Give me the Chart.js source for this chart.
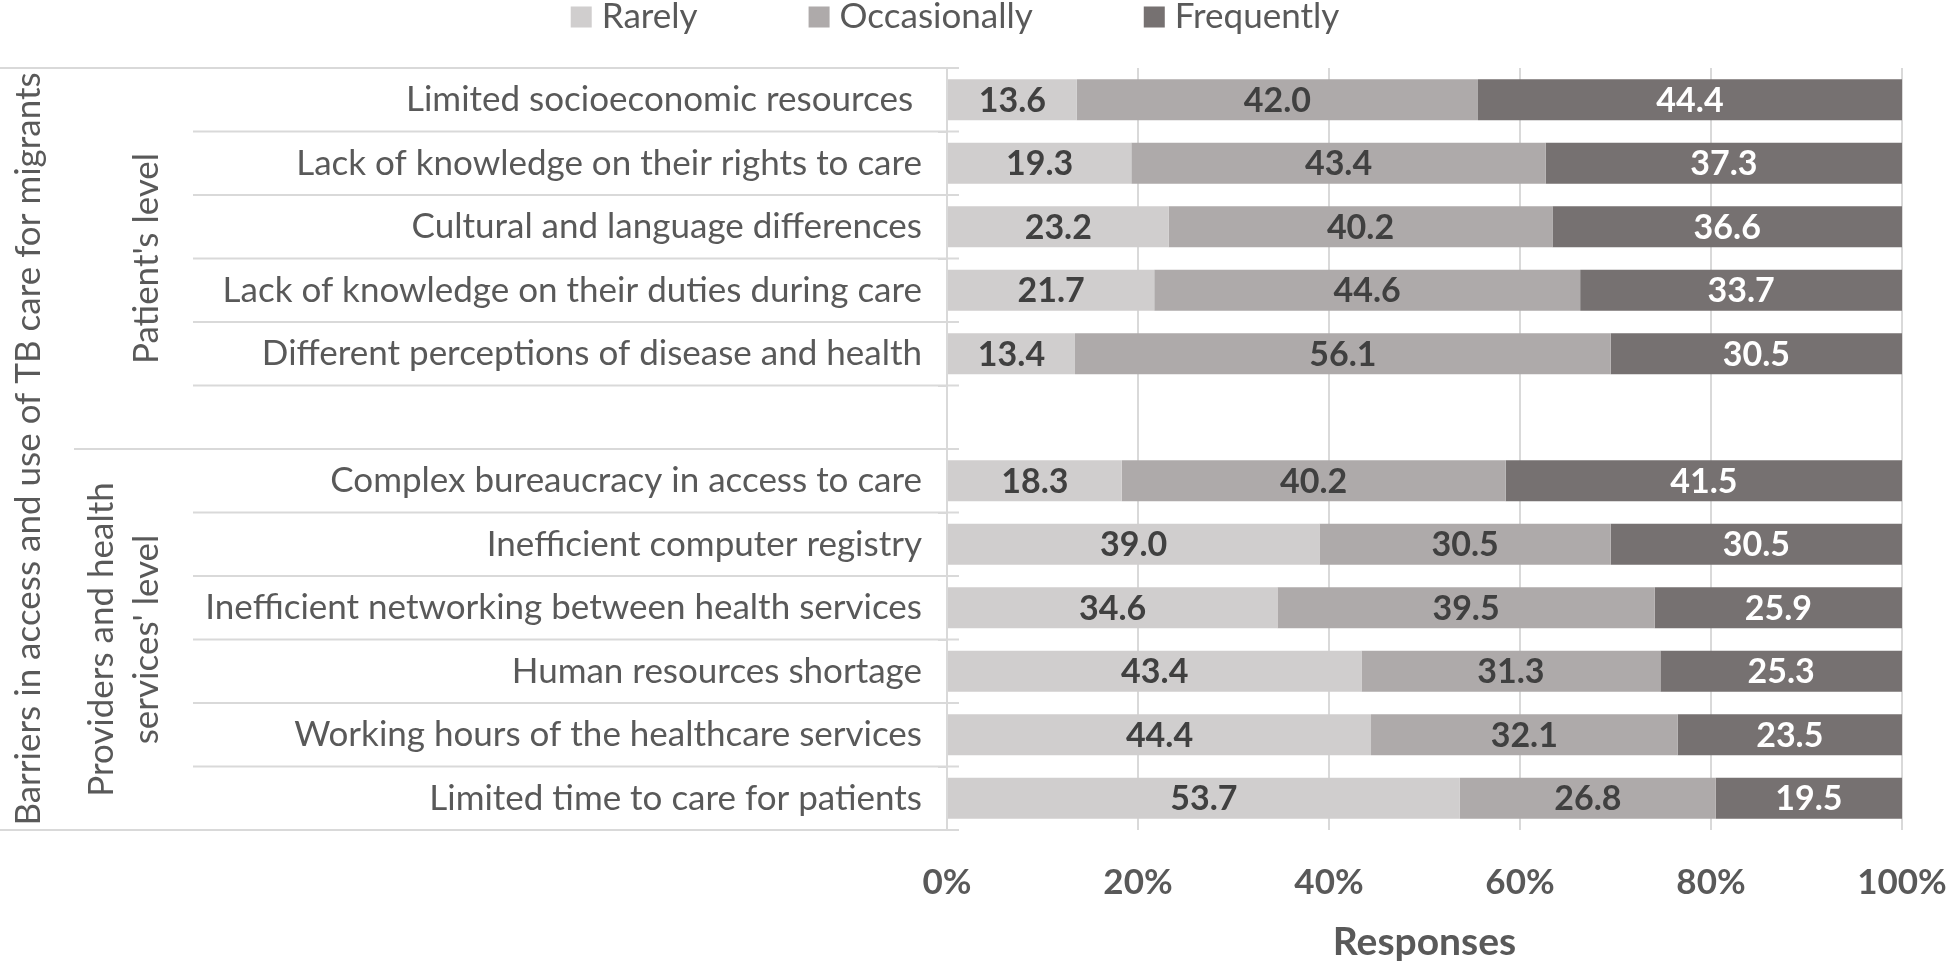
<!DOCTYPE html>
<html>
<head>
<meta charset="utf-8">
<script src="https://cdn.jsdelivr.net/npm/chart.js@4/dist/chart.umd.min.js"></script>
<style>
html,body{margin:0;padding:0;background:#ffffff;}
#wrap{width:1946px;height:963px;position:relative;}
</style>
</head>
<body>
<div id="wrap"><canvas id="c" width="1946" height="963"></canvas></div>
<script>
// ---- data ----
const categories = [
  'Limited socioeconomic resources ',
  'Lack of knowledge on their rights to care',
  'Cultural and language differences',
  'Lack of knowledge on their duties during care',
  'Different perceptions of disease and health',
  '',
  'Complex bureaucracy in access to care',
  'Inefficient computer registry',
  'Inefficient networking between health services',
  'Human resources shortage',
  'Working hours of the healthcare services',
  'Limited time to care for patients'
];
const rarely       = [13.6, 19.3, 23.2, 21.7, 13.4, null, 18.3, 39.0, 34.6, 43.4, 44.4, 53.7];
const occasionally = [42.0, 43.4, 40.2, 44.6, 56.1, null, 40.2, 30.5, 39.5, 31.3, 32.1, 26.8];
const frequently   = [44.4, 37.3, 36.6, 33.7, 30.5, null, 41.5, 30.5, 25.9, 25.3, 23.5, 19.5];
const seriesNames  = ['Rarely', 'Occasionally', 'Frequently'];
const xTickValues  = [0, 20, 40, 60, 80, 100];
const groupNames   = [["Patient's level"], ["Providers and health", "services' level"]];
const outerTitle   = 'Barriers in access and use of TB care for migrants';
const xTitle       = 'Responses';

// ---- styles ----
const colors = ['#d0cece', '#aeaaaa', '#767171'];
const labelColors = ['#404040', '#404040', '#ffffff'];
const textGray = '#595959';
const lineGray = '#d9d9d9';
const FONT = 'Lato';

const groupSplitIndex = 6; // first index of second group

const decorPlugin = {
  id: 'decor',
  afterDraw(chart) {
    const ctx = chart.ctx;
    const ys = chart.scales.y;
    const ca = chart.chartArea;
    const n = categories.length;
    const px = i => ys.getPixelForValue(i);
    ctx.save();
    // separators
    ctx.strokeStyle = lineGray;
    ctx.lineWidth = 2;
    const lineRight = ca.left + 12;
    const hline = (y, x0) => { ctx.beginPath(); ctx.moveTo(x0, y); ctx.lineTo(lineRight, y); ctx.stroke(); };
    hline(ca.top, 0);
    hline(ca.bottom, 0);
    for (let i = 0; i < n - 1; i++) {
      const yb = (px(i) + px(i + 1)) / 2;
      hline(yb, i + 1 === groupSplitIndex ? 74 : 193);
    }
    const groupY = (px(groupSplitIndex - 1) + px(groupSplitIndex)) / 2;
    // rotated labels
    ctx.fillStyle = textGray;
    ctx.textAlign = 'center';
    ctx.textBaseline = 'middle';
    ctx.font = '35px ' + FONT;
    const rot = (text, x, y) => { ctx.save(); ctx.translate(x, y); ctx.rotate(-Math.PI / 2); ctx.fillText(text, 0, 0); ctx.restore(); };
    rot(outerTitle, 29, (ca.top + ca.bottom) / 2);
    rot(groupNames[0][0], 147, (ca.top + groupY) / 2);
    rot(groupNames[1][0], 102, (groupY + ca.bottom) / 2);
    rot(groupNames[1][1], 147, (groupY + ca.bottom) / 2);

    // legend
    ctx.font = '35px ' + FONT;
    ctx.textAlign = 'left';
    const box = 21, gapBT = 10, gapItem = 111;
    const ds = chart.data.datasets;
    let total = 0;
    ds.forEach((d, i) => { total += box + gapBT + ctx.measureText(d.label).width + (i < ds.length - 1 ? gapItem : 0); });
    let x = 955 - total / 2;
    const ly = 17;
    ds.forEach((d, i) => {
      ctx.fillStyle = d.backgroundColor;
      ctx.fillRect(x, ly - box / 2, box, box);
      ctx.fillStyle = textGray;
      ctx.fillText(d.label, x + box + gapBT, ly);
      x += box + gapBT + ctx.measureText(d.label).width + gapItem;
    });
    ctx.restore();
  },
  afterDatasetsDraw(chart) {
    const ctx = chart.ctx;
    ctx.save();
    ctx.font = 'bold 34px ' + FONT;
    ctx.textAlign = 'center';
    ctx.textBaseline = 'middle';
    chart.data.datasets.forEach((d, di) => {
      const meta = chart.getDatasetMeta(di);
      ctx.fillStyle = labelColors[di];
      meta.data.forEach((el, j) => {
        const v = d.data[j];
        if (v === null || v === undefined) return;
        const p = el.getProps(['x', 'base', 'y'], true);
        ctx.fillText(v.toFixed(1), (p.x + p.base) / 2, p.y + 1);
      });
    });
    ctx.restore();
  }
};

const seriesData = [rarely, occasionally, frequently];
new Chart(document.getElementById('c'), {
  type: 'bar',
  data: {
    labels: categories,
    datasets: seriesNames.map((name, i) => ({
      label: name,
      data: seriesData[i],
      backgroundColor: colors[i],
      borderWidth: 0,
      barPercentage: 0.645,
      categoryPercentage: 1.0
    }))
  },
  options: {
    indexAxis: 'y',
    responsive: false,
    maintainAspectRatio: false,
    devicePixelRatio: 1,
    animation: false,
    layout: { padding: { top: 68, right: 44, left: 0, bottom: 0 } },
    plugins: {
      legend: { display: false },
      tooltip: { enabled: false },
      title: { display: false }
    },
    scales: {
      x: {
        stacked: true,
        min: 0,
        max: 100,
        afterBuildTicks(scale) { scale.ticks = xTickValues.map(v => ({ value: v })); },
        afterFit(scale) { scale.height = 133; scale.paddingRight = 0; scale.paddingLeft = 0; },
        grid: { color: lineGray, lineWidth: 2, drawTicks: false },
        border: { display: false },
        ticks: {
          padding: 32,
          color: textGray,
          font: { family: FONT, size: 35, weight: 'bold' },
          callback: v => v + '%'
        },
        title: {
          display: true,
          text: xTitle,
          color: textGray,
          font: { family: FONT, size: 39, weight: 'bold' },
          padding: { top: 0, bottom: -3 }
        }
      },
      y: {
        stacked: true,
        afterFit(scale) { scale.width = 947; scale.paddingTop = 0; scale.paddingBottom = 0; },
        grid: { drawOnChartArea: false, drawTicks: true, tickLength: 9, color: lineGray, lineWidth: 2 },
        border: { display: true, color: lineGray, width: 2 },
        ticks: {
          padding: 16,
          color: textGray,
          autoSkip: false,
          font: { family: FONT, size: 35 }
        }
      }
    }
  },
  plugins: [decorPlugin]
});
</script>
</body>
</html>
